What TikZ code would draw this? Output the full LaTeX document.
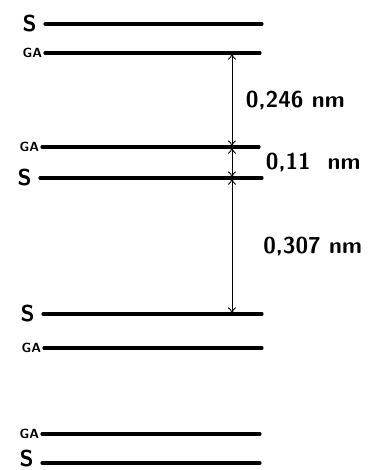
\documentclass[tikz,border=0pt]{standalone}
\usepackage{tkz-euclide}
\usetikzlibrary{arrows,arrows.meta,calc}
\tikzset{layer/.style={font=\sffamily\bfseries\LARGE,inner xsep=6pt},
  small layer/.style={font=\sffamily\bfseries\normalsize,inner xsep=2pt},
  gap/.style={font=\sffamily\bfseries\LARGE}}

\begin{document}
\begin{tikzpicture}[scale=.2646]
\useasboundingbox (0,0) rectangle (39.2,47);
\tkzSetUpLine[line width=2.4pt,color=black]

% layer ends
\tkzDefPoint(4.5,44.6){Sa}   \tkzDefPoint(26.2,44.6){Sb}
\tkzDefPoint(4.5,41.7){Ga}   \tkzDefPoint(26.0,41.7){Gb}
\tkzDefPoint(4.2,32.3){Gc}   \tkzDefPoint(25.9,32.3){Gd}
\tkzDefPoint(4.0,29.2){Sc}   \tkzDefPoint(26.2,29.2){Sd}
\tkzDefPoint(4.3,15.6){Se}   \tkzDefPoint(26.2,15.6){Sf}
\tkzDefPoint(4.4,12.2){Ge}   \tkzDefPoint(26.2,12.2){Gf}
\tkzDefPoint(4.2,3.6){Gg}    \tkzDefPoint(26.0,3.6){Gh}
\tkzDefPoint(4.2,0.7){Sg}    \tkzDefPoint(26.0,0.7){Sh}

% gap marks
\tkzDefPoint(23.2,41.7){A}
\tkzDefPoint(23.2,32.3){B}
\tkzDefPoint(23.2,29.2){C}
\tkzDefPoint(23.2,15.6){D}

\tkzDrawSegments(Sa,Sb Ga,Gb Gc,Gd Sc,Sd Se,Sf Ge,Gf Gg,Gh Sg,Sh)
\tkzDrawSegments[line width=0.7pt,<->,>={To[length=5pt,width=6pt]}](A,B B,C C,D)

\tkzLabelPoint[left,layer](Sa){S}
\tkzLabelPoint[left,small layer](Ga){GA}
\tkzLabelPoint[left,small layer](Gc){GA}
\tkzLabelPoint[left,layer](Sc){S}
\tkzLabelPoint[left,layer](Se){S}
\tkzLabelPoint[left,small layer](Ge){GA}
\tkzLabelPoint[left,small layer](Gg){GA}
\tkzLabelPoint[left,layer,yshift=3pt](Sg){S}

\tkzLabelSegment[right=7pt,gap](A,B){0,246 nm}
\tkzLabelSegment[right=22pt,gap](B,C){0,11\ \ nm}
\tkzLabelSegment[right=20pt,gap](C,D){0,307 nm}

\end{tikzpicture}
\end{document}
